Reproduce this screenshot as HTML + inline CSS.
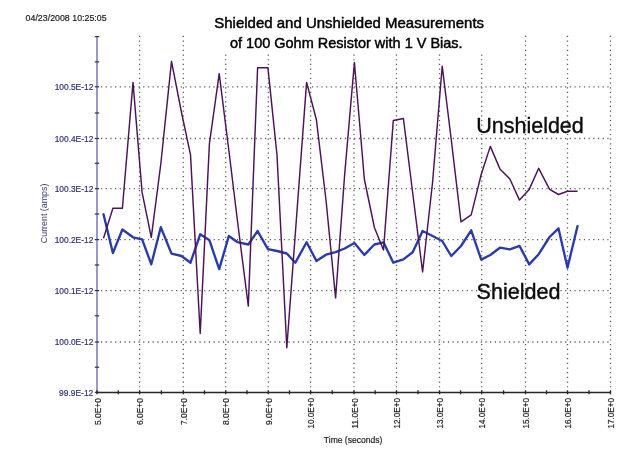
<!DOCTYPE html>
<html><head><meta charset="utf-8"><title>Shielded and Unshielded Measurements</title>
<style>html,body{margin:0;padding:0;background:#fff;width:642px;height:455px;overflow:hidden}</style>
</head><body>
<svg width="642" height="455" viewBox="0 0 642 455" style="display:block;will-change:transform">
<rect width="642" height="455" fill="#ffffff"/>
<line x1="139.6" y1="35.8" x2="139.6" y2="391.5" stroke="#5a5a5a" stroke-width="1.3" stroke-dasharray="1.2 3.471"/>
<line x1="183.3" y1="35.8" x2="183.3" y2="391.5" stroke="#5a5a5a" stroke-width="1.3" stroke-dasharray="1.2 3.471"/>
<line x1="225.7" y1="35.8" x2="225.7" y2="391.5" stroke="#5a5a5a" stroke-width="1.3" stroke-dasharray="1.2 3.471"/>
<line x1="268.3" y1="35.8" x2="268.3" y2="391.5" stroke="#5a5a5a" stroke-width="1.3" stroke-dasharray="1.2 3.471"/>
<line x1="310.6" y1="35.8" x2="310.6" y2="391.5" stroke="#5a5a5a" stroke-width="1.3" stroke-dasharray="1.2 3.471"/>
<line x1="354.0" y1="35.8" x2="354.0" y2="391.5" stroke="#5a5a5a" stroke-width="1.3" stroke-dasharray="1.2 3.471"/>
<line x1="396.5" y1="35.8" x2="396.5" y2="391.5" stroke="#5a5a5a" stroke-width="1.3" stroke-dasharray="1.2 3.471"/>
<line x1="439.5" y1="35.8" x2="439.5" y2="391.5" stroke="#5a5a5a" stroke-width="1.3" stroke-dasharray="1.2 3.471"/>
<line x1="481.7" y1="35.8" x2="481.7" y2="391.5" stroke="#5a5a5a" stroke-width="1.3" stroke-dasharray="1.2 3.471"/>
<line x1="525.5" y1="35.8" x2="525.5" y2="391.5" stroke="#5a5a5a" stroke-width="1.3" stroke-dasharray="1.2 3.471"/>
<line x1="567.5" y1="35.8" x2="567.5" y2="391.5" stroke="#5a5a5a" stroke-width="1.3" stroke-dasharray="1.2 3.471"/>
<line x1="610.5" y1="35.8" x2="610.5" y2="391.5" stroke="#5a5a5a" stroke-width="1.3" stroke-dasharray="1.2 3.471"/>
<line x1="101.0" y1="86.8" x2="610.5" y2="86.8" stroke="#5a5a5a" stroke-width="1.3" stroke-dasharray="1.2 3.488"/>
<line x1="101.0" y1="138.5" x2="610.5" y2="138.5" stroke="#5a5a5a" stroke-width="1.3" stroke-dasharray="1.2 3.488"/>
<line x1="101.0" y1="188.7" x2="610.5" y2="188.7" stroke="#5a5a5a" stroke-width="1.3" stroke-dasharray="1.2 3.488"/>
<line x1="101.0" y1="239.6" x2="610.5" y2="239.6" stroke="#5a5a5a" stroke-width="1.3" stroke-dasharray="1.2 3.488"/>
<line x1="101.0" y1="290.6" x2="610.5" y2="290.6" stroke="#5a5a5a" stroke-width="1.3" stroke-dasharray="1.2 3.488"/>
<line x1="101.0" y1="342.0" x2="610.5" y2="342.0" stroke="#5a5a5a" stroke-width="1.3" stroke-dasharray="1.2 3.488"/>
<rect x="200" y="0" width="300" height="53" fill="#ffffff"/>
<line x1="97.0" y1="36.5" x2="97.0" y2="392.5" stroke="#8f8fc4" stroke-width="1.8"/>
<line x1="94.8" y1="36.6" x2="99.2" y2="36.6" stroke="#2c2c66" stroke-width="1.2"/>
<line x1="94.8" y1="61.9" x2="99.2" y2="61.9" stroke="#2c2c66" stroke-width="1.2"/>
<line x1="94.8" y1="86.8" x2="99.2" y2="86.8" stroke="#2c2c66" stroke-width="1.2"/>
<line x1="94.8" y1="113.0" x2="99.2" y2="113.0" stroke="#2c2c66" stroke-width="1.2"/>
<line x1="94.8" y1="138.5" x2="99.2" y2="138.5" stroke="#2c2c66" stroke-width="1.2"/>
<line x1="94.8" y1="163.3" x2="99.2" y2="163.3" stroke="#2c2c66" stroke-width="1.2"/>
<line x1="94.8" y1="188.7" x2="99.2" y2="188.7" stroke="#2c2c66" stroke-width="1.2"/>
<line x1="94.8" y1="214.0" x2="99.2" y2="214.0" stroke="#2c2c66" stroke-width="1.2"/>
<line x1="94.8" y1="239.6" x2="99.2" y2="239.6" stroke="#2c2c66" stroke-width="1.2"/>
<line x1="94.8" y1="265.0" x2="99.2" y2="265.0" stroke="#2c2c66" stroke-width="1.2"/>
<line x1="94.8" y1="290.6" x2="99.2" y2="290.6" stroke="#2c2c66" stroke-width="1.2"/>
<line x1="94.8" y1="315.8" x2="99.2" y2="315.8" stroke="#2c2c66" stroke-width="1.2"/>
<line x1="94.8" y1="342.0" x2="99.2" y2="342.0" stroke="#2c2c66" stroke-width="1.2"/>
<line x1="94.8" y1="367.2" x2="99.2" y2="367.2" stroke="#2c2c66" stroke-width="1.2"/>
<line x1="94.8" y1="392.4" x2="99.2" y2="392.4" stroke="#2c2c66" stroke-width="1.2"/>
<line x1="96.0" y1="392.5" x2="611.0" y2="392.5" stroke="#262626" stroke-width="1.5"/>
<line x1="97.0" y1="390.3" x2="97.0" y2="394.3" stroke="#262626" stroke-width="1.3"/>
<line x1="118.3" y1="390.3" x2="118.3" y2="394.3" stroke="#262626" stroke-width="1.3"/>
<line x1="139.6" y1="390.3" x2="139.6" y2="394.3" stroke="#262626" stroke-width="1.3"/>
<line x1="161.4" y1="390.3" x2="161.4" y2="394.3" stroke="#262626" stroke-width="1.3"/>
<line x1="183.3" y1="390.3" x2="183.3" y2="394.3" stroke="#262626" stroke-width="1.3"/>
<line x1="204.5" y1="390.3" x2="204.5" y2="394.3" stroke="#262626" stroke-width="1.3"/>
<line x1="225.7" y1="390.3" x2="225.7" y2="394.3" stroke="#262626" stroke-width="1.3"/>
<line x1="247.0" y1="390.3" x2="247.0" y2="394.3" stroke="#262626" stroke-width="1.3"/>
<line x1="268.3" y1="390.3" x2="268.3" y2="394.3" stroke="#262626" stroke-width="1.3"/>
<line x1="289.5" y1="390.3" x2="289.5" y2="394.3" stroke="#262626" stroke-width="1.3"/>
<line x1="310.6" y1="390.3" x2="310.6" y2="394.3" stroke="#262626" stroke-width="1.3"/>
<line x1="332.3" y1="390.3" x2="332.3" y2="394.3" stroke="#262626" stroke-width="1.3"/>
<line x1="354.0" y1="390.3" x2="354.0" y2="394.3" stroke="#262626" stroke-width="1.3"/>
<line x1="375.2" y1="390.3" x2="375.2" y2="394.3" stroke="#262626" stroke-width="1.3"/>
<line x1="396.5" y1="390.3" x2="396.5" y2="394.3" stroke="#262626" stroke-width="1.3"/>
<line x1="418.0" y1="390.3" x2="418.0" y2="394.3" stroke="#262626" stroke-width="1.3"/>
<line x1="439.5" y1="390.3" x2="439.5" y2="394.3" stroke="#262626" stroke-width="1.3"/>
<line x1="460.6" y1="390.3" x2="460.6" y2="394.3" stroke="#262626" stroke-width="1.3"/>
<line x1="481.7" y1="390.3" x2="481.7" y2="394.3" stroke="#262626" stroke-width="1.3"/>
<line x1="503.6" y1="390.3" x2="503.6" y2="394.3" stroke="#262626" stroke-width="1.3"/>
<line x1="525.5" y1="390.3" x2="525.5" y2="394.3" stroke="#262626" stroke-width="1.3"/>
<line x1="546.5" y1="390.3" x2="546.5" y2="394.3" stroke="#262626" stroke-width="1.3"/>
<line x1="567.5" y1="390.3" x2="567.5" y2="394.3" stroke="#262626" stroke-width="1.3"/>
<line x1="589.0" y1="390.3" x2="589.0" y2="394.3" stroke="#262626" stroke-width="1.3"/>
<line x1="610.5" y1="390.3" x2="610.5" y2="394.3" stroke="#262626" stroke-width="1.3"/>
<text x="93.3" y="89.9" text-anchor="end" font-family='"Liberation Sans", Arial, sans-serif' font-size="9.6" fill="#30306e" stroke="#30306e" stroke-width="0.2" textLength="38.6" lengthAdjust="spacingAndGlyphs">100.5E-12</text>
<text x="93.3" y="141.6" text-anchor="end" font-family='"Liberation Sans", Arial, sans-serif' font-size="9.6" fill="#30306e" stroke="#30306e" stroke-width="0.2" textLength="38.6" lengthAdjust="spacingAndGlyphs">100.4E-12</text>
<text x="93.3" y="191.8" text-anchor="end" font-family='"Liberation Sans", Arial, sans-serif' font-size="9.6" fill="#30306e" stroke="#30306e" stroke-width="0.2" textLength="38.6" lengthAdjust="spacingAndGlyphs">100.3E-12</text>
<text x="93.3" y="242.7" text-anchor="end" font-family='"Liberation Sans", Arial, sans-serif' font-size="9.6" fill="#30306e" stroke="#30306e" stroke-width="0.2" textLength="38.6" lengthAdjust="spacingAndGlyphs">100.2E-12</text>
<text x="93.3" y="293.7" text-anchor="end" font-family='"Liberation Sans", Arial, sans-serif' font-size="9.6" fill="#30306e" stroke="#30306e" stroke-width="0.2" textLength="38.6" lengthAdjust="spacingAndGlyphs">100.1E-12</text>
<text x="93.3" y="345.1" text-anchor="end" font-family='"Liberation Sans", Arial, sans-serif' font-size="9.6" fill="#30306e" stroke="#30306e" stroke-width="0.2" textLength="38.6" lengthAdjust="spacingAndGlyphs">100.0E-12</text>
<text x="93.3" y="395.5" text-anchor="end" font-family='"Liberation Sans", Arial, sans-serif' font-size="9.6" fill="#30306e" stroke="#30306e" stroke-width="0.2" textLength="34.2" lengthAdjust="spacingAndGlyphs">99.9E-12</text>
<text transform="translate(100.7,398.1) rotate(-90)" text-anchor="end" font-family='"Liberation Sans", Arial, sans-serif' font-size="9.6" fill="#1e1e1e" stroke="#1e1e1e" stroke-width="0.2" textLength="27.0" lengthAdjust="spacingAndGlyphs">5.0E+0</text>
<text transform="translate(143.3,398.1) rotate(-90)" text-anchor="end" font-family='"Liberation Sans", Arial, sans-serif' font-size="9.6" fill="#1e1e1e" stroke="#1e1e1e" stroke-width="0.2" textLength="27.0" lengthAdjust="spacingAndGlyphs">6.0E+0</text>
<text transform="translate(187.0,398.1) rotate(-90)" text-anchor="end" font-family='"Liberation Sans", Arial, sans-serif' font-size="9.6" fill="#1e1e1e" stroke="#1e1e1e" stroke-width="0.2" textLength="27.0" lengthAdjust="spacingAndGlyphs">7.0E+0</text>
<text transform="translate(229.4,398.1) rotate(-90)" text-anchor="end" font-family='"Liberation Sans", Arial, sans-serif' font-size="9.6" fill="#1e1e1e" stroke="#1e1e1e" stroke-width="0.2" textLength="27.0" lengthAdjust="spacingAndGlyphs">8.0E+0</text>
<text transform="translate(272.0,398.1) rotate(-90)" text-anchor="end" font-family='"Liberation Sans", Arial, sans-serif' font-size="9.6" fill="#1e1e1e" stroke="#1e1e1e" stroke-width="0.2" textLength="27.0" lengthAdjust="spacingAndGlyphs">9.0E+0</text>
<text transform="translate(314.3,398.1) rotate(-90)" text-anchor="end" font-family='"Liberation Sans", Arial, sans-serif' font-size="9.6" fill="#1e1e1e" stroke="#1e1e1e" stroke-width="0.2" textLength="30.4" lengthAdjust="spacingAndGlyphs">10.0E+0</text>
<text transform="translate(357.7,398.1) rotate(-90)" text-anchor="end" font-family='"Liberation Sans", Arial, sans-serif' font-size="9.6" fill="#1e1e1e" stroke="#1e1e1e" stroke-width="0.2" textLength="30.4" lengthAdjust="spacingAndGlyphs">11.0E+0</text>
<text transform="translate(400.2,398.1) rotate(-90)" text-anchor="end" font-family='"Liberation Sans", Arial, sans-serif' font-size="9.6" fill="#1e1e1e" stroke="#1e1e1e" stroke-width="0.2" textLength="30.4" lengthAdjust="spacingAndGlyphs">12.0E+0</text>
<text transform="translate(443.2,398.1) rotate(-90)" text-anchor="end" font-family='"Liberation Sans", Arial, sans-serif' font-size="9.6" fill="#1e1e1e" stroke="#1e1e1e" stroke-width="0.2" textLength="30.4" lengthAdjust="spacingAndGlyphs">13.0E+0</text>
<text transform="translate(485.4,398.1) rotate(-90)" text-anchor="end" font-family='"Liberation Sans", Arial, sans-serif' font-size="9.6" fill="#1e1e1e" stroke="#1e1e1e" stroke-width="0.2" textLength="30.4" lengthAdjust="spacingAndGlyphs">14.0E+0</text>
<text transform="translate(529.2,398.1) rotate(-90)" text-anchor="end" font-family='"Liberation Sans", Arial, sans-serif' font-size="9.6" fill="#1e1e1e" stroke="#1e1e1e" stroke-width="0.2" textLength="30.4" lengthAdjust="spacingAndGlyphs">15.0E+0</text>
<text transform="translate(571.2,398.1) rotate(-90)" text-anchor="end" font-family='"Liberation Sans", Arial, sans-serif' font-size="9.6" fill="#1e1e1e" stroke="#1e1e1e" stroke-width="0.2" textLength="30.4" lengthAdjust="spacingAndGlyphs">16.0E+0</text>
<text transform="translate(614.2,398.1) rotate(-90)" text-anchor="end" font-family='"Liberation Sans", Arial, sans-serif' font-size="9.6" fill="#1e1e1e" stroke="#1e1e1e" stroke-width="0.2" textLength="30.4" lengthAdjust="spacingAndGlyphs">17.0E+0</text>
<text x="353.1" y="443.4" text-anchor="middle" font-family='"Liberation Sans", Arial, sans-serif' font-size="9.4" fill="#1e1e1e" stroke="#1e1e1e" stroke-width="0.2" textLength="58.5" lengthAdjust="spacingAndGlyphs">Time (seconds)</text>
<text transform="translate(46.9,213.4) rotate(-90)" text-anchor="middle" font-family='"Liberation Sans", Arial, sans-serif' font-size="9" fill="#3a3a78" textLength="59.6" lengthAdjust="spacingAndGlyphs">Current (amps)</text>
<text x="25.6" y="20.6" font-family='"Liberation Sans", Arial, sans-serif' font-size="9.4" fill="#1a1a1a" stroke="#1a1a1a" stroke-width="0.2" textLength="81" lengthAdjust="spacingAndGlyphs">04/23/2008 10:25:05</text>
<text x="349.2" y="28.0" text-anchor="middle" font-family='"Liberation Sans", Arial, sans-serif' font-size="14.6" fill="#000" stroke="#000" stroke-width="0.45" textLength="269.8" lengthAdjust="spacingAndGlyphs">Shielded and Unshielded Measurements</text>
<text x="346.3" y="47.5" text-anchor="middle" font-family='"Liberation Sans", Arial, sans-serif' font-size="14.6" fill="#000" stroke="#000" stroke-width="0.45" textLength="232.6" lengthAdjust="spacingAndGlyphs">of 100 Gohm Resistor with 1 V Bias.</text>
<polyline points="103.5,214.3 112.9,253.0 122.4,229.5 133.0,237.3 142.1,239.3 151.3,264.3 160.8,227.2 171.5,253.6 181.5,256.0 190.5,262.7 200.2,234.3 209.4,240.2 219.2,269.2 228.8,236.0 237.6,242.2 248.3,244.5 257.6,231.0 267.9,249.2 277.0,251.0 286.8,253.5 295.3,262.7 306.6,242.2 316.4,260.9 326.0,254.7 335.6,252.2 344.7,248.5 354.4,243.0 364.4,254.9 374.4,244.5 383.5,242.3 393.3,262.7 403.4,259.4 412.7,252.2 422.6,231.0 432.6,236.0 442.2,241.0 451.3,256.0 461.0,246.0 471.2,230.3 481.2,259.6 490.3,255.0 499.9,247.7 509.9,249.4 519.5,245.9 529.2,264.4 538.7,254.2 549.6,237.0 558.5,228.4 567.5,267.7 577.5,226.2" fill="none" stroke="#2a3aa6" stroke-width="2.35" stroke-linejoin="round" stroke-linecap="round"/>
<polyline points="103.5,238.2 112.9,208.3 122.4,208.3 133.0,82.4 142.1,192.4 151.3,237.3 160.8,164.0 171.5,61.3 181.5,112.5 190.5,154.6 200.2,333.5 209.4,143.8 219.2,73.7 228.8,150.0 237.6,222.0 248.3,306.1 257.6,67.7 267.9,67.7 277.0,155.0 286.8,347.7 295.3,234.0 306.6,82.4 316.4,119.8 326.0,200.0 335.6,297.9 344.7,174.0 354.4,62.5 364.4,179.5 374.4,227.5 383.5,250.0 393.3,120.5 403.4,118.5 412.7,193.0 422.6,271.9 432.6,182.0 442.2,66.2 451.3,140.0 461.0,221.8 471.2,214.8 481.2,174.5 490.3,146.4 499.9,168.9 509.9,179.0 519.5,200.1 529.2,189.4 538.7,168.3 549.6,189.4 558.5,194.5 567.5,191.3 577.5,191.3" fill="none" stroke="#4a1456" stroke-width="1.45" stroke-linejoin="round"/>
<text x="476.2" y="132.8" font-family='"Liberation Sans", Arial, sans-serif' font-size="22.8" fill="#0c0c0c" stroke="#0c0c0c" stroke-width="0.4" textLength="107.6" lengthAdjust="spacingAndGlyphs">Unshielded</text>
<text x="476.6" y="299.1" font-family='"Liberation Sans", Arial, sans-serif' font-size="22.8" fill="#0c0c0c" stroke="#0c0c0c" stroke-width="0.4" textLength="84" lengthAdjust="spacingAndGlyphs">Shielded</text>
</svg>
</body></html>
